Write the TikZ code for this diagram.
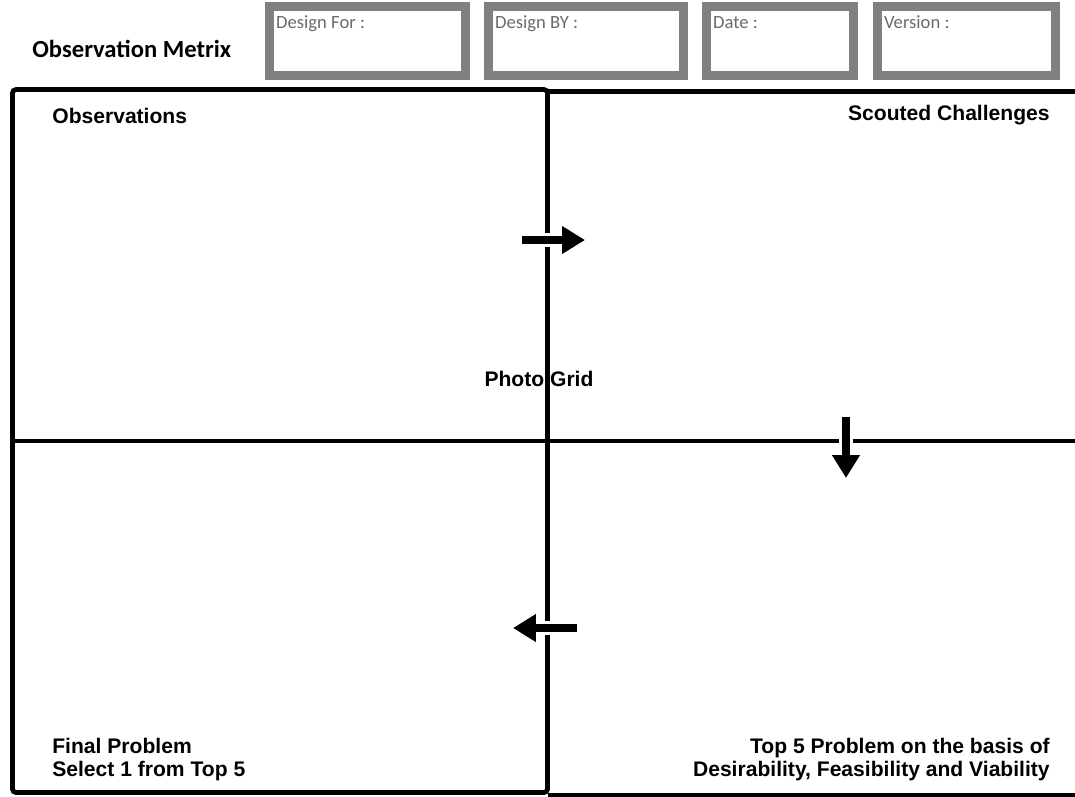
\documentclass[tikz,border=0pt]{standalone}
\usepackage{fontspec}
\setmainfont{Liberation Sans}
\newfontfamily\calibri{Carlito}
\usetikzlibrary{positioning,arrows.meta}
\definecolor{boxgray}{HTML}{808080}
\definecolor{labelgray}{HTML}{6A6A6A}

\begin{document}
\begin{tikzpicture}[x=0.02cm, y=-0.02cm]
\tikzstyle{hbox} = [draw=boxgray, line width=4.8pt, minimum height=1.38cm, outer sep=0pt, inner sep=0pt]
\tikzstyle{hlabel} = [anchor=north west, inner sep=0pt, text height=7.5pt, text depth=2pt, xshift=3.6pt, yshift=-5pt, text=labelgray, font=\calibri\fontsize{10.6}{12}\selectfont]
\tikzstyle{frame} = [draw, line width=2.7pt]
\tikzstyle{title} = [inner sep=0pt, font=\bfseries\fontsize{12}{13}\selectfont]
\tikzstyle{halo} = [draw=white, line width=8pt]
\tikzstyle{line} = [draw, line width=4.5pt, -{Triangle[length=13pt, width=15pt]}]

\useasboundingbox (0,0) rectangle (1075,796);

% header
\node [anchor=base west, inner sep=0pt, font=\calibri\bfseries\fontsize{14}{16}\selectfont] (head) at (32,57) {Observation Metrix};
\node [hbox, minimum width=3.92cm, label={[hlabel]north west:Design For :}] (dfor) at (367.5,41) {};
\node [hbox, minimum width=3.9cm, right=0.46cm of dfor, label={[hlabel]north west:Design BY :}] (dby) {};
\node [hbox, minimum width=2.94cm, right=0.46cm of dby, label={[hlabel]north west:Date :}] (date) {};
\node [hbox, minimum width=3.56cm, right=0.48cm of date, label={[hlabel]north west:Version :}] (ver) {};

% quadrant titles
\node [title, anchor=base west] (obs) at (52,123) {Observations};
\node [title, anchor=base east] (scout) at (1050,120) {Scouted Challenges};
\node [title, anchor=base] (grid) at (539,386) {Photo Grid};
\node [title, anchor=south west, align=left] (final) at (52,781) {Final Problem\\Select 1 from Top 5};
\node [title, anchor=south east, align=right] (top) at (1050,781) {Top 5 Problem on the basis of\\Desirability, Feasibility and Viability};

% grid
\draw [frame, rounded corners=2pt] (12.5,89.5) rectangle (547.5,792.5);
\draw [frame] (547.5,91.5) -- (1080,91.5);
\draw [frame] (547.5,795) -- (1080,795);
\draw [frame] (12.5,441) -- (1080,441);

% flow arrows
\coordinate (a1) at (522,240);
\coordinate (a2) at (585,240);
\coordinate (b1) at (846,417);
\coordinate (b2) at (846,478);
\coordinate (c1) at (577,628);
\coordinate (c2) at (513,628);
\path [halo] (a1) -- (a2);
\path [halo] (b1) -- (b2);
\path [halo] (c1) -- (c2);
\path [line] (a1) -- (a2);
\path [line] (b1) -- (b2);
\path [line] (c1) -- (c2);

\end{tikzpicture}
\end{document}
